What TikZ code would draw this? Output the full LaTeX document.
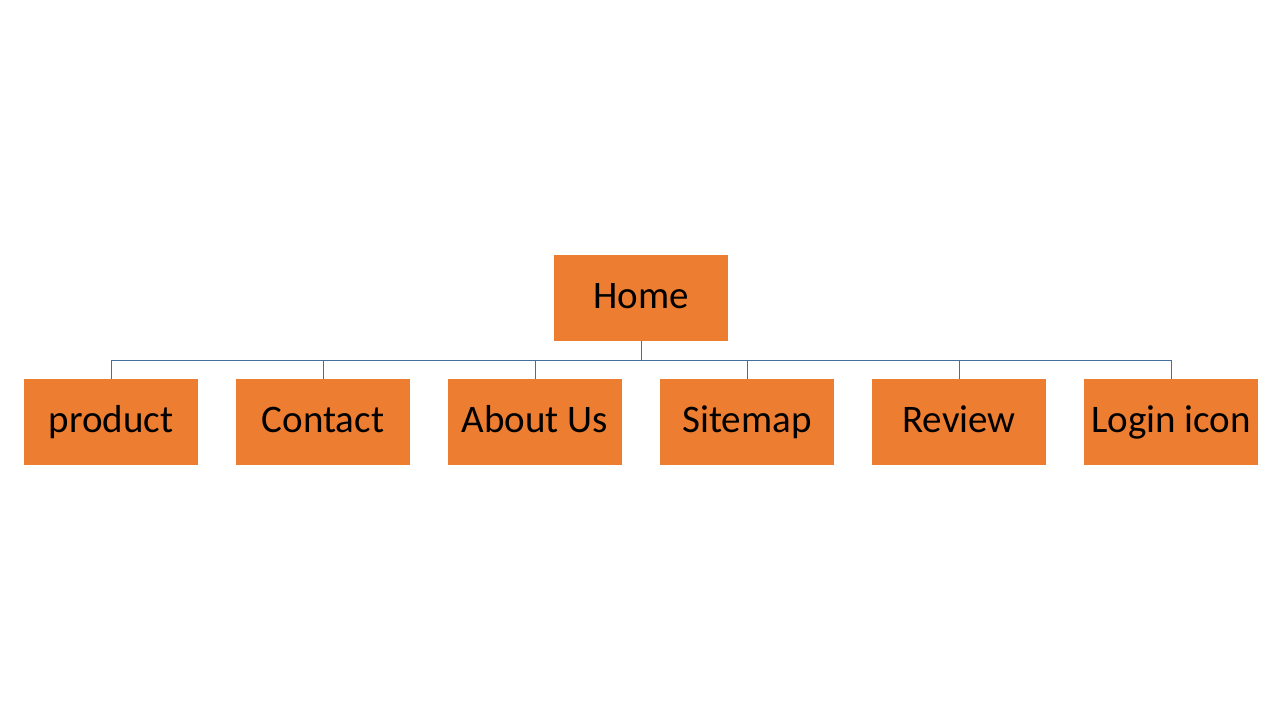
\documentclass[tikz,border=0pt]{standalone}
\usepackage{fontspec}
\setmainfont{Carlito}
\usetikzlibrary{positioning}
\definecolor{boxorange}{HTML}{ED7D31}
\definecolor{linkblue}{HTML}{41719C}

\begin{document}
\begin{tikzpicture}[x=1pt, y=1pt, node distance=38pt,
		b/.style={rectangle, fill=boxorange, minimum width=174pt, minimum height=86pt, inner sep=0pt, outer sep=0pt,
			text height=29pt, text depth=7pt, font=\fontsize{39}{43}\selectfont},
		l/.style={draw=linkblue, line width=0.8pt}]
		\useasboundingbox (0,0) rectangle (1280,720);

		\node[b] (home) at (641,422) {Home};
		\node[b] (prod) at (111,298) {product};
		\node[b, right=of prod] (cont) {Contact};
		\node[b, right=of cont] (about) {About Us};
		\node[b, right=of about] (site) {Sitemap};
		\node[b, right=of site] (rev) {Review};
		\node[b, right=of rev] (login) {Login icon};

		\path[l] (home.south) -- ++(0,-19) -| (prod.north);
		\path[l] (home.south) -- ++(0,-19) -| (cont.north);
		\path[l] (home.south) -- ++(0,-19) -| (about.north);
		\path[l] (home.south) -- ++(0,-19) -| (site.north);
		\path[l] (home.south) -- ++(0,-19) -| (rev.north);
		\path[l] (home.south) -- ++(0,-19) -| (login.north);
	\end{tikzpicture}
\end{document}
